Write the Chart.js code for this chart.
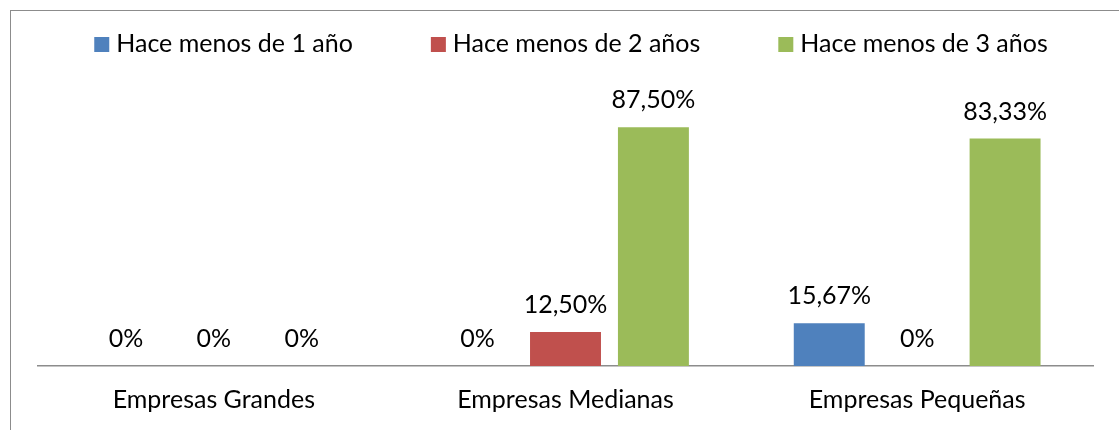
<!DOCTYPE html>
<html>
<head>
<meta charset="utf-8">
<script src="https://cdn.jsdelivr.net/npm/chart.js@4.4.1/dist/chart.umd.min.js"></script>
<style>
    html, body { margin: 0; padding: 0; background: #fff; overflow: hidden; }
    #wrap { position: relative; width: 1119px; height: 430px; }
    #frame { position: absolute; left: 10px; top: 10px; right: -5px; bottom: -5px;
             border-left: 1px solid #8c8c8c; border-top: 1px solid #8c8c8c; pointer-events: none; }
    canvas { position: absolute; left: 0; top: 0; }
</style>
</head>
<body>
<div id="wrap">
    <canvas id="chart" width="1119" height="430"></canvas>
    <div id="frame"></div>
</div>
<script>
// --- Daten ---
const categories = ["Empresas Grandes", "Empresas Medianas", "Empresas Pequeñas"];
const seriesNames = ["Hace menos de 1 año", "Hace menos de 2 años", "Hace menos de 3 años"];
const menos1 = [0, 0, 15.67];
const menos2 = [0, 12.5, 0];
const menos3 = [0, 87.5, 83.33];
const colors = ["#4F81BD", "#C0504D", "#9BBB59"];

const FONT = "Lato, 'Open Sans', sans-serif";
const FS = 25;

function fmt(v) {
    if (v === 0) return "0%";
    return v.toFixed(2).replace(".", ",") + "%";
}

// Beschriftung über den Balken
const valueLabels = {
    id: "valueLabels",
    afterDatasetsDraw(chart) {
        const ctx = chart.ctx;
        ctx.save();
        ctx.font = FS + "px " + FONT;
        ctx.fillStyle = "#000";
        ctx.textAlign = "center";
        ctx.textBaseline = "middle";
        chart.data.datasets.forEach((ds, i) => {
            chart.getDatasetMeta(i).data.forEach((bar, j) => {
                ctx.fillText(fmt(ds.data[j]), bar.x, bar.y - 27);
            });
        });
        ctx.restore();
    },
};

// Legende oben
const topLegend = {
    id: "topLegend",
    afterDraw(chart) {
        const ctx = chart.ctx;
        ctx.save();
        ctx.font = FS + "px " + FONT;
        ctx.textBaseline = "middle";
        const box = 15, gap = 7, space = 78;
        const items = chart.data.datasets.map((ds) => ({
            text: ds.label, color: ds.backgroundColor, w: ctx.measureText(ds.label).width,
        }));
        const total = items.reduce((s, it) => s + box + gap + it.w, 0) + space * (items.length - 1);
        let x = 571 - total / 2;
        const yc = 44;
        items.forEach((it) => {
            ctx.fillStyle = it.color;
            ctx.fillRect(x, yc - 7, box, box);
            ctx.fillStyle = "#000";
            ctx.fillText(it.text, x + box + gap, yc);
            x += box + gap + it.w + space;
        });
        ctx.restore();
    },
};

const ctx = document.getElementById("chart").getContext("2d");

const chart = new Chart(ctx, {
    type: "bar",
    data: {
        labels: categories,
        datasets: [
            { label: seriesNames[0], data: menos1, backgroundColor: colors[0] },
            { label: seriesNames[1], data: menos2, backgroundColor: colors[1] },
            { label: seriesNames[2], data: menos3, backgroundColor: colors[2] },
        ],
    },
    options: {
        responsive: false,
        animation: false,
        categoryPercentage: 0.75,
        barPercentage: 0.807,
        layout: { padding: { left: 38, right: 26, top: 93, bottom: 15 } },
        plugins: {
            legend: { display: false },
            tooltip: { enabled: false },
        },
        scales: {
            x: {
                grid: { display: false, drawTicks: false },
                border: { display: true, color: "#8c8c8c", width: 1.5 },
                ticks: { color: "#000", padding: 19, font: { family: FONT, size: FS } },
                afterFit(scale) { scale.height = 49; },
            },
            y: {
                display: false,
                min: 0,
                max: 100,
            },
        },
    },
    plugins: [valueLabels, topLegend],
});
</script>
</body>
</html>
